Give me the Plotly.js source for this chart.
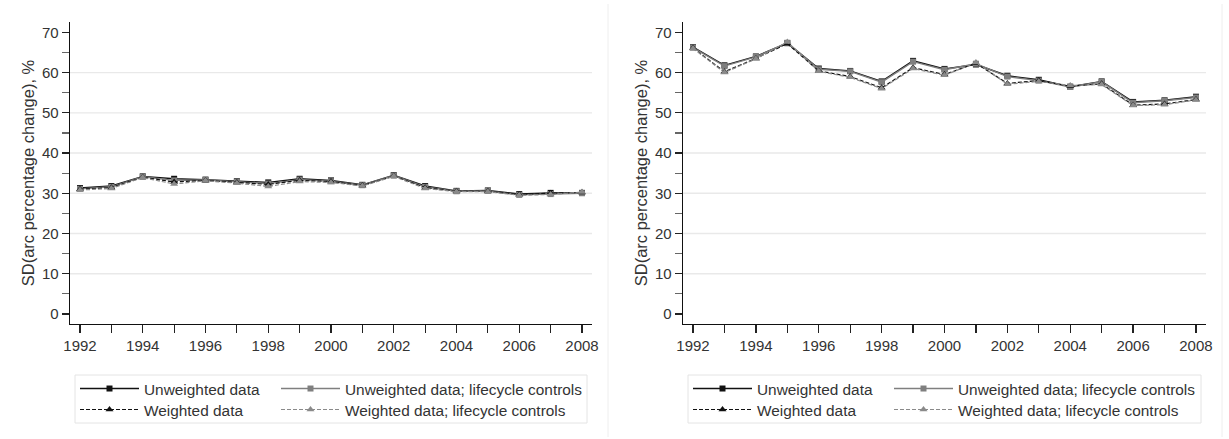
<!DOCTYPE html>
<html><head><meta charset="utf-8">
<script src="https://cdn.plot.ly/plotly-3.0.1.min.js"></script>
<style>html,body{margin:0;padding:0;background:#fff}#chart{width:1229px;height:439px}</style>
</head><body><div id="chart"></div>
<script>
// ---- data ----
const years = [1992,1993,1994,1995,1996,1997,1998,1999,2000,2001,2002,2003,2004,2005,2006,2007,2008];
const seriesNames = ['Unweighted data','Unweighted data; lifecycle controls','Weighted data','Weighted data; lifecycle controls'];
const leftUnweighted          = [31.3,31.8,34.2,33.6,33.4,33.0,32.7,33.6,33.2,32.1,34.5,31.8,30.6,30.7,29.8,30.1,30.1];
const leftUnweightedLifecycle = [31.1,31.6,34.1,33.2,33.3,32.9,32.4,33.4,33.0,32.0,34.4,31.6,30.5,30.6,29.6,29.8,30.0];
const leftWeighted            = [31.0,31.4,34.0,32.8,33.2,32.7,32.2,33.2,32.9,31.9,34.3,31.4,30.5,30.5,29.7,30.0,30.2];
const leftWeightedLifecycle   = [30.8,31.2,33.9,32.3,33.1,32.5,31.7,32.9,32.7,31.8,34.2,31.2,30.4,30.4,29.5,29.7,30.3];
const rightUnweighted          = [66.3,61.8,64.0,67.3,61.0,60.4,57.8,62.9,60.9,62.0,59.2,58.2,56.5,57.8,52.7,53.1,54.0];
const rightUnweightedLifecycle = [66.2,61.6,63.9,67.4,60.8,60.3,57.6,62.7,60.7,62.2,59.0,58.0,56.4,57.7,52.5,53.0,53.8];
const rightWeighted            = [66.1,60.2,63.5,67.2,60.4,59.0,56.2,61.2,59.5,62.3,57.3,58.0,56.6,57.2,51.9,52.2,53.3];
const rightWeightedLifecycle   = [66.0,60.0,63.4,67.6,60.3,58.8,56.0,61.0,59.3,62.5,57.1,57.8,56.8,57.0,51.8,52.0,53.2];
const gridValues = [10,20,30,40,50,60];
const yTitle = 'SD(arc percentage change), %';

// ---- geometry (px) ----
const W = 1229, H = 439, plotTop = 22, plotBottom = 324;
const ph = plotBottom - plotTop;
const px = v => v / W;
const py = v => (plotBottom - v) / ph;

const styles = [
  {color:'#111111', dash:'solid',   symbol:'square',      msize:6, width:1.4},
  {color:'#7f7f7f', dash:'solid',   symbol:'square',      msize:6, width:1.4},
  {color:'#111111', dash:'4px,2px', symbol:'triangle-up', msize:7, width:1.2},
  {color:'#8a8a8a', dash:'4px,2px', symbol:'triangle-up', msize:7, width:1.2}
];
const panels = [
  {data:[leftUnweighted,leftUnweightedLifecycle,leftWeighted,leftWeightedLifecycle], xa:'x', ya:'y'},
  {data:[rightUnweighted,rightUnweightedLifecycle,rightWeighted,rightWeightedLifecycle], xa:'x2', ya:'y2'}
];
const legendPos = [[80,389],[281,389],[80,410],[281,410]];
const legendPos2 = [[693,389],[894,389],[693,410],[894,410]];

const font = {family: 'Liberation Sans, Arial, sans-serif', size: 15, color: '#333'};
const traces = [];
const layoutLegends = {};
let li = 1;
panels.forEach((p, pi) => {
  p.data.forEach((vals, si) => {
    const st = styles[si];
    const lname = li === 1 ? 'legend' : 'legend' + li;
    traces.push({
      x: years, y: vals, xaxis: p.xa, yaxis: p.ya,
      type: 'scatter', mode: 'lines+markers', name: seriesNames[si],
      line: {color: st.color, dash: st.dash, width: st.width},
      marker: {symbol: st.symbol, size: st.msize, color: st.color},
      legend: lname, showlegend: true
    });
    const pos = (pi === 0 ? legendPos : legendPos2)[si];
    layoutLegends[lname] = {
      x: px(pos[0] - 5), y: py(pos[1]), xanchor: 'left', yanchor: 'middle',
      xref: 'paper', yref: 'paper', bgcolor: 'rgba(0,0,0,0)', borderwidth: 0,
      itemwidth: 59, font: {family: font.family, size: 15.4, color: '#333'},
      orientation: 'v', tracegroupgap: 0
    };
    li++;
  });
});

function xaxisDef(domain, anchor) {
  return {
    domain: domain, anchor: anchor, range: [1991.681, 2008.319],
    tick0: 1992, dtick: 2, ticks: 'outside', ticklen: 8, tickwidth: 1.2, tickcolor: '#222',
    minor: {dtick: 1, ticks: 'outside', ticklen: 8, tickwidth: 1.2, tickcolor: '#222', showgrid: false},
    showline: true, linecolor: '#111', linewidth: 1.3, showgrid: false, zeroline: false,
    tickfont: font, fixedrange: true
  };
}
function yaxisDef(anchor) {
  return {
    domain: [0, 1], anchor: anchor, range: [-2.49, 72.56],
    tick0: 0, dtick: 10, ticks: 'outside', ticklen: 7, tickwidth: 1.2, tickcolor: '#222',
    minor: {dtick: 5, ticks: 'outside', ticklen: 7, tickwidth: 1.2, tickcolor: '#666', showgrid: false},
    showline: true, linecolor: '#111', linewidth: 1.3, showgrid: false, zeroline: false,
    tickfont: font, title: {text: yTitle, font: {family: font.family, size: 16.5, color: '#333'}, standoff: 3},
    fixedrange: true
  };
}

const shapes = [];
['x', 'x2'].forEach((xa, i) => {
  const ya = i === 0 ? 'y' : 'y2';
  gridValues.forEach(g => shapes.push({
    type: 'line', xref: xa + ' domain', x0: 0, x1: 1, yref: ya, y0: g, y1: g,
    line: {color: '#e9e9e9', width: 1.3}, layer: 'below'
  }));
});
[608, 1222].forEach(sx => shapes.push({
  type: 'line', xref: 'paper', x0: px(sx), x1: px(sx), yref: 'paper', y0: py(437), y1: py(4),
  line: {color: '#eeeeee', width: 1}
}));
[[75, 587], [688, 1201]].forEach(b => shapes.push({
  type: 'rect', xref: 'paper', x0: px(b[0]), x1: px(b[1]), yref: 'paper', y0: py(423), y1: py(375),
  line: {color: '#e4e4e4', width: 1}, fillcolor: 'rgba(0,0,0,0)'
}));

const layout = Object.assign({
  width: W, height: H,
  margin: {l: 0, r: 0, t: plotTop, b: H - plotBottom, pad: 0},
  paper_bgcolor: '#fff', plot_bgcolor: '#fff',
  font: font,
  xaxis: xaxisDef([px(70), px(592)], 'y'),
  yaxis: yaxisDef('x'),
  xaxis2: xaxisDef([px(683), px(1206)], 'y2'),
  yaxis2: yaxisDef('x2'),
  shapes: shapes,
  showlegend: true
}, layoutLegends);

Plotly.newPlot('chart', traces, layout, {displayModeBar: false, staticPlot: true});
</script>
</body></html>
